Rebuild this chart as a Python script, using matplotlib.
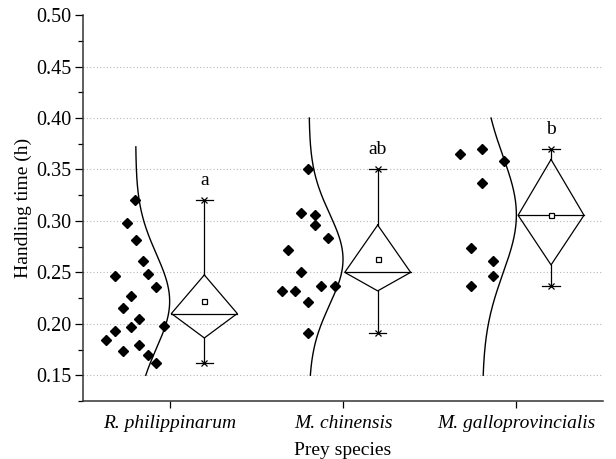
import numpy as np
import matplotlib
matplotlib.use("Agg")
import matplotlib.pyplot as plt

plt.rcParams['font.family'] = ['Liberation Serif', 'DejaVu Serif']

categories = ["R. philippinarum", "M. chinensis", "M. galloprovincialis"]
letters = ["a", "ab", "b"]

# handling time values (h) per prey species
rp_values = [0.320, 0.298, 0.281, 0.261, 0.246, 0.248, 0.236, 0.227, 0.215,
             0.205, 0.198, 0.197, 0.193, 0.184, 0.174, 0.179, 0.170, 0.162]
mc_values = [0.350, 0.308, 0.306, 0.296, 0.283, 0.272, 0.250, 0.232, 0.232,
             0.237, 0.237, 0.221, 0.191]
mg_values = [0.365, 0.370, 0.358, 0.337, 0.274, 0.261, 0.246, 0.237]

# horizontal placement of points (offset from category centre)
rp_offsets = [-0.198, -0.244, -0.196, -0.152, -0.317, -0.127, -0.079, -0.221, -0.269,
              -0.175, -0.033, -0.221, -0.317, -0.365, -0.269, -0.175, -0.127, -0.079]
mc_offsets = [-0.202, -0.240, -0.161, -0.161, -0.088, -0.315, -0.240, -0.353, -0.277,
              -0.125, -0.048, -0.202, -0.202]
mg_offsets = [-0.324, -0.200, -0.069, -0.200, -0.261, -0.134, -0.134, -0.261]

# vertical extent of each fitted normal curve
curve_low = [0.15, 0.15, 0.15]
curve_high = [0.372, 0.40, 0.40]

groups = [rp_values, mc_values, mg_values]
offsets = [rp_offsets, mc_offsets, mg_offsets]

fig = plt.figure(figsize=(6.16, 4.59), dpi=100)
ax = fig.add_axes([0.1347, 0.1264, 0.979 - 0.1347, 0.967 - 0.1264])

ax.set_xlim(0.5, 3.5)
ax.set_ylim(0.125, 0.50)

# grid
for gy in np.arange(0.15, 0.451, 0.05):
    ax.axhline(gy, color="#b8b8b8", lw=0.8, ls=(0, (1, 2)), zorder=0)

lw = 0.9
curve_w = 0.196
box_dx = 0.20
box_hw = 0.19
cap_hw = 0.05

for i, (vals, offs) in enumerate(zip(groups, offsets)):
    cx = i + 1
    v = np.array(vals)
    # points
    ax.plot(cx + np.array(offs), v, ls="none", marker="D", ms=5.2,
            color="black", zorder=3)
    # normal curve
    mu = v.mean()
    sd = v.std(ddof=1)
    yy = np.linspace(curve_low[i], curve_high[i], 200)
    xx = cx - curve_w + curve_w * np.exp(-(yy - mu) ** 2 / (2 * sd ** 2))
    ax.plot(xx, yy, color="black", lw=1.0, zorder=2)
    # diamond box
    q1, med, q3 = np.percentile(v, [25, 50, 75])
    bx = cx + box_dx
    ax.plot([bx, bx + box_hw, bx, bx - box_hw, bx],
            [q3, med, q1, med, q3], color="black", lw=lw, zorder=2)
    ax.plot([bx - box_hw, bx + box_hw], [med, med], color="black", lw=lw, zorder=2)
    ax.plot([bx, bx], [q3, v.max()], color="black", lw=lw, zorder=2)
    ax.plot([bx, bx], [q1, v.min()], color="black", lw=lw, zorder=2)
    for ext in (v.max(), v.min()):
        ax.plot([bx - cap_hw, bx + cap_hw], [ext, ext], color="black", lw=lw, zorder=2)
        ax.plot([bx], [ext], marker="x", ms=4.5, mew=0.9, color="black", zorder=3)
    ax.plot([bx], [mu], marker="s", ms=3.6, mfc="white", mec="black", mew=0.9, zorder=4)
    ax.text(bx, v.max() + 0.019, letters[i], ha="center", va="center", fontsize=14)

ax.set_xticks([1, 2, 3])
ax.set_xticklabels(categories, fontstyle="italic", fontsize=14)
ax.set_yticks(np.arange(0.15, 0.501, 0.05))
ax.set_yticklabels([f"{t:.2f}" for t in np.arange(0.15, 0.501, 0.05)], fontsize=14.5)
ax.set_yticks(np.arange(0.125, 0.501, 0.025), minor=True)
ax.tick_params(axis="y", which="major", length=6, width=0.9, direction="out", pad=2)
ax.tick_params(axis="y", which="minor", length=3.5, width=0.9, direction="out")
ax.tick_params(axis="x", which="major", length=5, width=0.9, direction="out", pad=5)
ax.tick_params(axis="x", which="minor", length=0)

for s in ("top", "right"):
    ax.spines[s].set_visible(False)
for s in ("left", "bottom"):
    ax.spines[s].set_linewidth(1.1)
    ax.spines[s].set_color("#333333")

ax.set_ylabel("Handling time (h)", fontsize=14, labelpad=3)
ax.set_xlabel("Prey species", fontsize=14, labelpad=7)

fig.savefig("out.png", dpi=100)
